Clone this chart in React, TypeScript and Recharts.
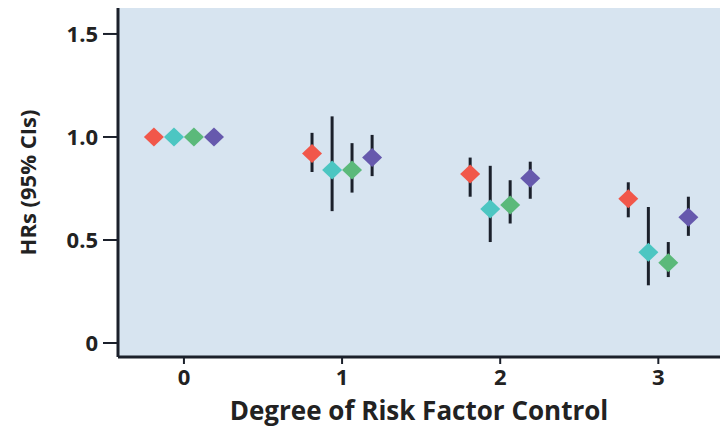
import React from "react";
import { ScatterChart, Scatter, XAxis, YAxis, ErrorBar, CartesianGrid, Label } from "recharts";

const categories = [0, 1, 2, 3];
const offsets = [-0.19, -0.063, 0.063, 0.19];
const seriesNames = ["Series 1", "Series 2", "Series 3", "Series 4"];
const colors = ["#f1574a", "#4cc6c2", "#5bb97a", "#6659ad"];

const redHR = [1.0, 0.92, 0.82, 0.7];
const redLo = [1.0, 0.83, 0.71, 0.61];
const redHi = [1.0, 1.02, 0.9, 0.78];

const cyanHR = [1.0, 0.84, 0.65, 0.44];
const cyanLo = [1.0, 0.64, 0.49, 0.28];
const cyanHi = [1.0, 1.1, 0.86, 0.66];

const greenHR = [1.0, 0.84, 0.67, 0.39];
const greenLo = [1.0, 0.73, 0.58, 0.32];
const greenHi = [1.0, 0.97, 0.79, 0.49];

const purpleHR = [1.0, 0.9, 0.8, 0.61];
const purpleLo = [1.0, 0.81, 0.7, 0.52];
const purpleHi = [1.0, 1.01, 0.88, 0.71];

const xTicks = [0, 1, 2, 3];
const yTicks = [0, 0.5, 1.0, 1.5];

const series = [
  { hr: redHR, lo: redLo, hi: redHi },
  { hr: cyanHR, lo: cyanLo, hi: cyanHi },
  { hr: greenHR, lo: greenLo, hi: greenHi },
  { hr: purpleHR, lo: purpleLo, hi: purpleHi },
];

const buildData = (s: { hr: number[]; lo: number[]; hi: number[] }, idx: number) =>
  categories.map((c, i) => ({
    x: c + offsets[idx],
    y: s.hr[i],
    err: [s.hr[i] - s.lo[i], s.hi[i] - s.hr[i]],
  }));

const Diamond = (props: any) => {
  const { cx, cy, fill } = props;
  if (cx == null || cy == null) return null;
  const w = 10;
  const h = 9.5;
  return (
    <polygon
      points={`${cx - w},${cy} ${cx},${cy - h} ${cx + w},${cy} ${cx},${cy + h}`}
      fill={fill}
    />
  );
};

const FONT = "'Open Sans', 'DejaVu Sans', sans-serif";
const AXIS = "#1b202b";

export default function App() {
  return (
    <div style={{ position: "absolute", left: 0, top: 0, background: "#fff" }}>
      <ScatterChart width={720} height={428} margin={{ top: 8, right: 0, left: 0, bottom: 0 }}>
        <CartesianGrid fill="#d7e4f0" stroke="none" horizontal={false} vertical={false} />
        <XAxis
          type="number"
          dataKey="x"
          domain={[-0.417, 3.39]}
          allowDataOverflow
          ticks={xTicks}
          height={71}
          axisLine={{ stroke: AXIS, strokeWidth: 3 }}
          tickLine={{ stroke: AXIS, strokeWidth: 2 }}
          tickSize={7}
          tickMargin={5}
          tick={{ fill: "#222", fontSize: 22, fontWeight: 700, fontFamily: FONT }}
        >
          <Label
            value="Degree of Risk Factor Control"
            position="insideBottom"
            offset={8}
            style={{ fill: "#222", fontSize: 26, fontWeight: 700, fontFamily: FONT }}
          />
        </XAxis>
        <YAxis
          type="number"
          dataKey="y"
          domain={[-0.068, 1.626]}
          allowDataOverflow
          ticks={yTicks}
          width={118}
          tickFormatter={(v: number) => (v === 0 ? "0" : v.toFixed(1))}
          axisLine={{ stroke: AXIS, strokeWidth: 3 }}
          tickLine={{ stroke: AXIS, strokeWidth: 2 }}
          tickSize={15}
          tickMargin={5}
          tick={{ fill: "#222", fontSize: 22, fontWeight: 700, fontFamily: FONT }}
        >
          <Label
            value="HRs (95% CIs)"
            angle={-90}
            position="insideLeft"
            offset={28}
            style={{ textAnchor: "middle", fill: "#222", fontSize: 22, fontWeight: 700, fontFamily: FONT }}
          />
        </YAxis>
        {series.map((s, idx) => (
          <Scatter
            key={idx}
            name={seriesNames[idx]}
            data={buildData(s, idx)}
            fill={colors[idx]}
            shape={<Diamond fill={colors[idx]} />}
            isAnimationActive={false}
          >
            <ErrorBar dataKey="err" direction="y" width={0} stroke={AXIS} strokeWidth={3} />
          </Scatter>
        ))}
      </ScatterChart>
    </div>
  );
}
